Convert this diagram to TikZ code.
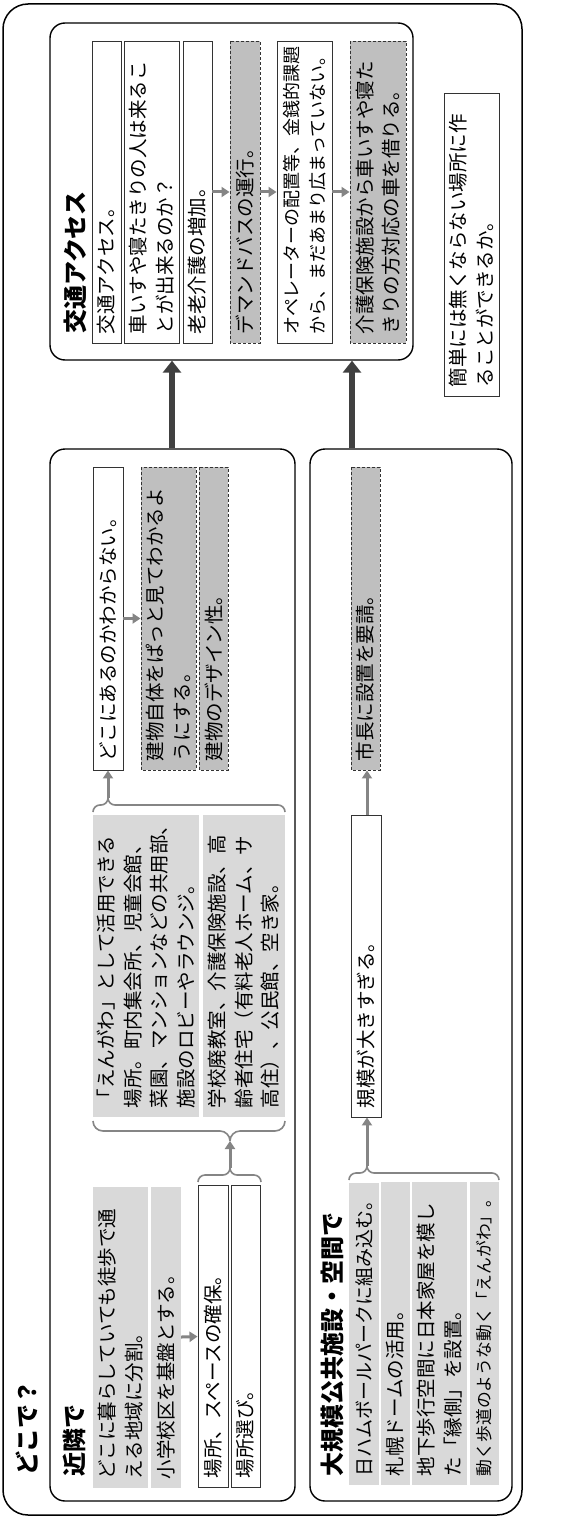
\documentclass[tikz,border=0pt]{standalone}
\usepackage{fontspec}
\setmainfont{Noto Sans CJK JP}
\usetikzlibrary{arrows.meta}
\definecolor{lg}{HTML}{D9D9D9}
\definecolor{dg}{HTML}{BFBFBF}
\definecolor{ag}{HTML}{858585}
\definecolor{bg}{HTML}{404040}
\newcommand\rsbox[7][]{%
  \pgfmathsetmacro\rsxc{(#3+#4)/2}%
  \pgfmathsetmacro\rsyc{(#5+#6)/2}%
  \pgfmathsetmacro\rslen{#6-#5}%
  \pgfmathsetmacro\rsthk{#4-#3}%
  \pgfmathsetmacro\rstw{#6-#5-18}%
  \node[body,#1,minimum width=\rslen pt,minimum height=\rsthk pt,text width=\rstw pt] (#2) at (\rsxc,\rsyc) {#7};%
}
\begin{document}
\begin{tikzpicture}[x=1pt,y=-1pt,
  body/.style={rotate=90,align=left,inner xsep=9pt,inner ysep=1pt,
    font=\fontsize{19.5}{26.5}\selectfont},
  wbox/.style={draw=black!80,line width=0.9pt,fill=white},
  gbox/.style={fill=lg},
  dbox/.style={draw=black!80,line width=0.9pt,dash pattern=on 3pt off 2pt,fill=dg},
  grp/.style={draw=black,line width=1.4pt,rounded corners=15pt,fill=white},
  ttl/.style={rotate=90,inner sep=0pt,anchor=west,font=\bfseries\fontsize{24}{28}\selectfont},
  sarr/.style={draw=ag,line width=3pt,-{Triangle[length=8pt,width=10pt]}},
  barr/.style={draw=bg,line width=6pt,-{Triangle[length=12pt,width=18pt]}},
  brc/.style={draw=ag,line width=1.6pt,rounded corners=#1},
  brc/.default=7pt,
  smallfont/.style={font=\fontsize{#1}{26.5}\selectfont}]
\useasboundingbox (0,0) rectangle (572,1517);
% outer frame
\node[draw=black,line width=1.5pt,rounded corners=25pt,minimum width=519pt,minimum height=1511pt,inner sep=0pt] (outer) at (262.5,759.5) {};
\node[ttl] (t0) at (27,1476) {どこで？};
% groups
\node[grp,minimum width=363pt,minimum height=337pt,inner sep=0pt] (G1) at (231.5,191.5) {};
\node[grp,minimum width=245pt,minimum height=1052pt,inner sep=0pt] (G2) at (172.5,975) {};
\node[grp,minimum width=202pt,minimum height=1052pt,inner sep=0pt] (G3) at (411,975) {};
\node[ttl] (tc) at (75,334) {交通アクセス};
\node[ttl] (ta) at (74,1477) {近隣で};
\node[ttl] (tb) at (332,1477) {大規模公共施設・空間で};
% transport boxes
\rsbox[wbox]{T1}{92}{121}{41}{343}{交通アクセス。}
\rsbox[wbox]{T2}{124}{179}{41}{343}{車いすや寝たきりの人は来るこ\\とが出来るのか？}
\rsbox[wbox]{T3}{183}{212}{41}{343}{老老介護の増加。}
\rsbox[dbox]{T4}{230}{260}{41}{343}{デマンドバスの運行。}
\rsbox[wbox,smallfont=18]{T5}{277}{332}{41}{343}{オペレーターの配置等、金銭的課題\\から、まだあまり広まっていない。}
\rsbox[dbox]{T6}{350}{406}{41}{343}{介護保険施設から車いすや寝た\\きりの方対応の車を借りる。}
\draw[sarr] (T3) -- (T4);
\draw[sarr] (T4) -- (T5);
\draw[sarr] (T5) -- (T6);
% note
\rsbox[wbox]{N}{444}{499}{93}{396}{簡単には無くならない場所に作\\ることができるか。}
% neighbourhood group
\rsbox[gbox]{A1}{93}{148}{1187}{1488}{どこに暮らしていても徒歩で通\\える地域に分割。}
\rsbox[gbox]{A2}{151}{181}{1187}{1488}{小学校区を基盤とする。}
\rsbox[wbox]{B1}{198}{228}{1185}{1487}{場所、スペースの確保。}
\rsbox[wbox]{B2}{231}{260}{1185}{1487}{場所選び。}
\draw[sarr] (A2) -- (B1);
\draw[brc] (198,1182) |- (230,1175) -- (230,1168);
\draw[brc] (261,1182) |- (230,1175) -- (230,1168);
\coordinate (bB) at (230,1168);
\draw[brc=10pt] (93,1121) |- (230,1131) -- (230,1141);
\draw[brc=10pt] (285,1121) |- (230,1131) -- (230,1141);
\coordinate (bBig) at (230,1141);
\draw[sarr] (bB) -- (bBig);
\rsbox[gbox]{C1}{93}{199}{815}{1117}{「えんがわ」として活用できる\\場所。町内集会所、児童会館、\\菜園、マンションなどの共用部、\\施設のロビーやラウンジ。}
\rsbox[gbox]{C2}{203}{285}{815}{1117}{学校廃教室、介護保険施設、高\\齢者住宅（有料老人ホーム、サ\\高住）、公民館、空き家。}
\draw[brc] (93,812) |- (108,805) -- (108,798);
\draw[brc] (285,812) |- (108,805) -- (108,798);
\coordinate (bC) at (108,798);
\rsbox[wbox]{D1}{93}{123}{467}{770}{どこにあるのかわからない。}
\draw[sarr] (bC) -- (bC |- D1.west);
\rsbox[dbox]{E1}{141}{196}{467}{770}{建物自体をぱっと見てわかるよ\\うにする。}
\rsbox[dbox]{E2}{199}{228}{467}{770}{建物のデザイン性。}
\draw[sarr] (D1) -- (E1);
% large-scale group
\rsbox[gbox,smallfont=19]{L1}{349}{379}{1183}{1485}{日ハムボールパークに組み込む。}
\rsbox[gbox]{L2}{381}{410}{1182}{1485}{札幌ドームの活用。}
\rsbox[gbox]{L3}{412}{467}{1182}{1485}{地下歩行空間に日本家屋を模し\\た「縁側」を設置。}
\rsbox[gbox,smallfont=16.8]{L4}{470}{499}{1182}{1485}{動く歩道のような動く「えんがわ」。}
\draw[brc] (349,1180) |- (367,1173) -- (367,1166);
\draw[brc] (499,1180) |- (367,1173) -- (367,1166);
\coordinate (bL) at (367,1166);
\rsbox[wbox]{M1}{351}{381}{815}{1117}{規模が大きすぎる。}
\rsbox[dbox]{M2}{351}{380}{467}{770}{市長に設置を要請。}
\draw[sarr] (bL) -- (bL |- M1.west);
\draw[sarr] (bL |- M1.east) -- (bL |- M2.west);
% big arrows
\coordinate (ax1) at (172,0);
\coordinate (ax2) at (352,0);
\draw[barr] (ax1 |- G2.north) -- (ax1 |- G1.south);
\draw[barr] (ax2 |- G3.north) -- (ax2 |- G1.south);
\end{tikzpicture}
\end{document}
